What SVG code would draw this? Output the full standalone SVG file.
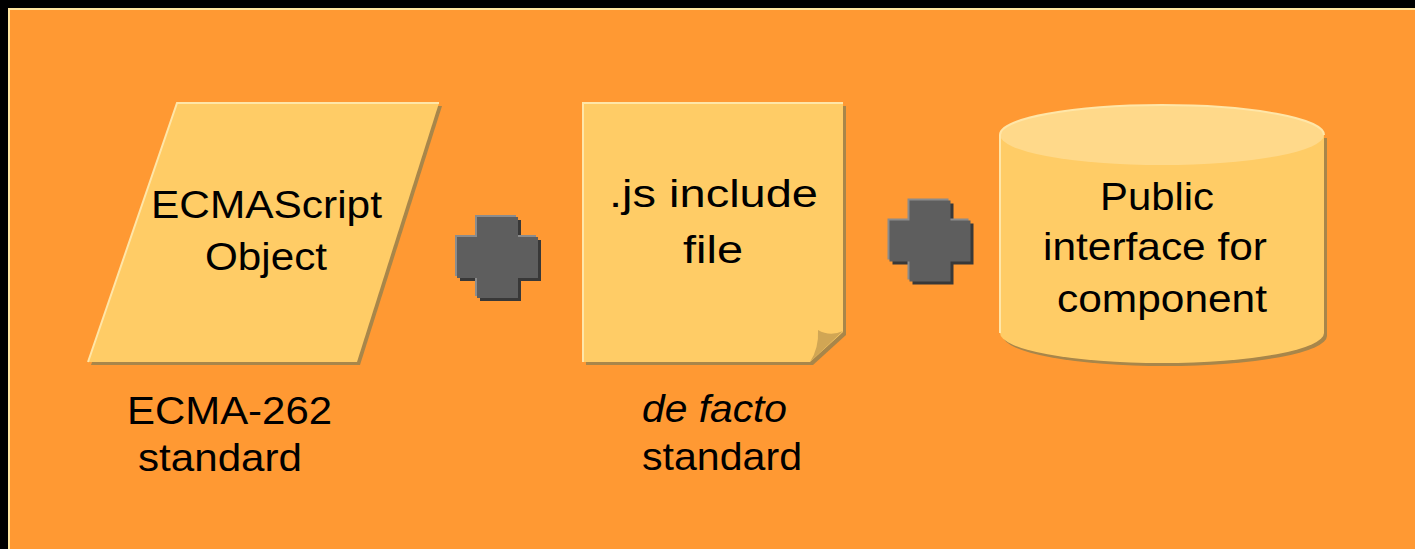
<svg xmlns="http://www.w3.org/2000/svg" xmlns:xlink="http://www.w3.org/1999/xlink" width="1415" height="549" viewBox="0 0 1415 549">
<style>
.t{font-family:"Liberation Sans",Arial,sans-serif;font-size:39px;fill:#000}
.i{font-style:italic}
.fill{fill:#FFCC66}
.shadow{fill:#A8864A}
.hl{fill:none;stroke:#FFE6A8;stroke-width:2}
.pmain{fill:#5E5E5E}
.pshadow{fill:#383838}
.phl{fill:#8C8C8C}
</style>
<defs>
<path id="cross" d="M-20.5,-40.5 H20.5 V-20.5 H40.5 V20.5 H20.5 V40.5 H-20.5 V20.5 H-40.5 V-20.5 H-20.5 Z"/>
</defs>
<rect x="0" y="0" width="1415" height="549" fill="#000"/>
<rect x="9" y="9" width="1420" height="560" fill="#FF9933" stroke="#FFE6A0" stroke-width="2"/>

<g id="node-ecmascript">
<polygon class="shadow" points="180,106 442,106 360,365 91,365"/>
<polygon class="fill" points="177,103 439,103 357,362 88,362"/>
<polyline class="hl" points="439,103 177,103 88,362"/>
<text class="t" x="151" y="218" textLength="231" lengthAdjust="spacingAndGlyphs">ECMAScript</text>
<text class="t" x="205" y="270" textLength="122" lengthAdjust="spacingAndGlyphs">Object</text>
</g>

<g id="plus-1">
<use xlink:href="#cross" class="pshadow" transform="translate(500.5,260.5)"/>
<use xlink:href="#cross" class="phl" transform="translate(495.5,255.5)"/>
<use xlink:href="#cross" class="pmain" transform="translate(497.5,257.5)"/>
</g>

<g id="node-jsfile">
<path class="shadow" d="M586,106 H846 V335 L813,365 H586 Z"/>
<path class="fill" d="M583,103 H843 V332 L810,362 H583 Z"/>
<polyline class="hl" points="843,103 583,103 583,362"/>
<path d="M843,331 Q830,337 818,330 Q819,348 810,362 Z" fill="#D1A654"/>
<text class="t" x="609" y="207" textLength="209" lengthAdjust="spacingAndGlyphs">.js include</text>
<text class="t" x="683" y="263" textLength="60" lengthAdjust="spacingAndGlyphs">file</text>
</g>

<g id="plus-2">
<use xlink:href="#cross" class="pshadow" transform="translate(933,244)"/>
<use xlink:href="#cross" class="phl" transform="translate(928,239)"/>
<use xlink:href="#cross" class="pmain" transform="translate(930,241)"/>
</g>

<g id="node-public">
<path class="shadow" d="M1003,138 V336 A162,30 0 0 0 1327,336 V138 Z"/>
<path class="fill" d="M1000,135 V333 A162,30 0 0 0 1324,333 V135 Z"/>
<ellipse cx="1162" cy="135" rx="162" ry="30" fill="#FFD98A"/>
<path class="hl" d="M1000,333 V135 A162,30 0 0 1 1324,135"/>
<text class="t" x="1100" y="210" textLength="114" lengthAdjust="spacingAndGlyphs">Public</text>
<text class="t" x="1043" y="260" textLength="224" lengthAdjust="spacingAndGlyphs">interface for</text>
<text class="t" x="1057" y="312" textLength="210" lengthAdjust="spacingAndGlyphs">component</text>
</g>

<g id="label-ecma262">
<text class="t" x="127" y="424" textLength="205" lengthAdjust="spacingAndGlyphs">ECMA-262</text>
<text class="t" x="138" y="471" textLength="164" lengthAdjust="spacingAndGlyphs">standard</text>
</g>

<g id="label-defacto">
<text class="t i" x="642" y="422" textLength="145" lengthAdjust="spacingAndGlyphs">de facto</text>
<text class="t" x="642" y="470" textLength="160" lengthAdjust="spacingAndGlyphs">standard</text>
</g>

<g id="connectors"></g>
</svg>
